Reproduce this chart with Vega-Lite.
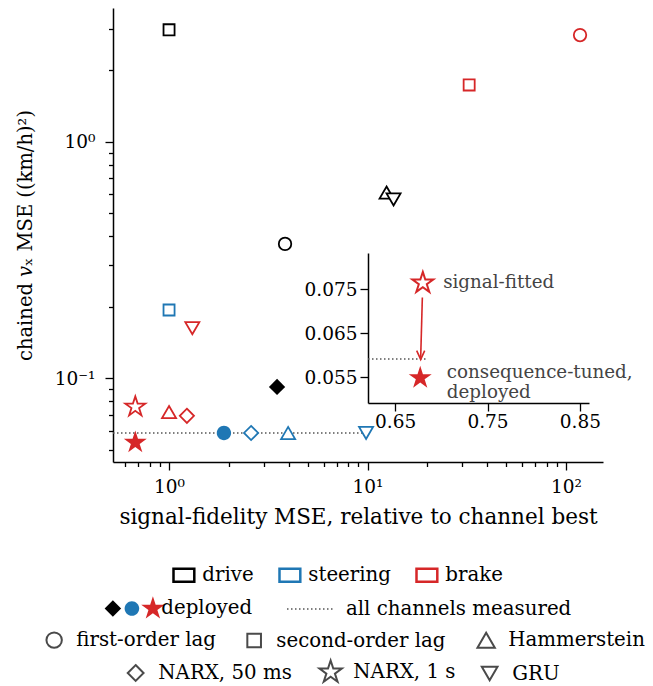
{
  "$schema": "https://vega.github.io/schema/vega-lite/v6.json",
  "width": 490,
  "height": 454,
  "autosize": {"type": "none"},
  "padding": {"left": 113, "top": 8, "right": 50, "bottom": 224},
  "background": "white",
  "config": {
    "view": {"stroke": null},
    "font": "DejaVu Serif",
    "style": {"guide-label": {"font": "DejaVu Serif"}, "guide-title": {"font": "DejaVu Serif"}},
    "axis": {"labelFont": "DejaVu Serif", "titleFont": "DejaVu Serif", "labelFontSize": 18.5, "titleFontSize": 19.5, "titleFontWeight": "normal", "labelColor": "#000", "titleColor": "#000", "domainColor": "#000", "tickColor": "#000", "domainWidth": 1.5, "tickWidth": 1.3, "grid": false, "labelOverlap": false, "labelFlush": false},
    "legend": {"labelFont": "DejaVu Serif", "labelFontSize": 19.8, "labelColor": "#000", "padding": 0, "labelLimit": 400, "orient": "none", "direction": "horizontal"}
  },
  "datasets": {
    "points": [
      {"channel": "drive", "model": "second-order lag", "signal": 1.0, "chained": 2.97, "status": "candidate"},
      {"channel": "drive", "model": "first-order lag", "signal": 3.84, "chained": 0.370, "status": "candidate"},
      {"channel": "drive", "model": "Hammerstein", "signal": 12.47, "chained": 0.610, "status": "candidate"},
      {"channel": "drive", "model": "GRU", "signal": 13.52, "chained": 0.570, "status": "candidate"},
      {"channel": "drive", "model": "NARX, 50 ms", "signal": 3.50, "chained": 0.0920, "status": "deployed"},
      {"channel": "steering", "model": "second-order lag", "signal": 1.0, "chained": 0.1945, "status": "candidate"},
      {"channel": "steering", "model": "first-order lag", "signal": 1.89, "chained": 0.0588, "status": "deployed"},
      {"channel": "steering", "model": "NARX, 50 ms", "signal": 2.59, "chained": 0.0588, "status": "candidate"},
      {"channel": "steering", "model": "Hammerstein", "signal": 3.98, "chained": 0.0588, "status": "candidate"},
      {"channel": "steering", "model": "GRU", "signal": 9.83, "chained": 0.0588, "status": "candidate"},
      {"channel": "brake", "model": "first-order lag", "signal": 117.6, "chained": 2.82, "status": "candidate"},
      {"channel": "brake", "model": "second-order lag", "signal": 32.5, "chained": 1.736, "status": "candidate"},
      {"channel": "brake", "model": "Hammerstein", "signal": 1.0, "chained": 0.0721, "status": "candidate"},
      {"channel": "brake", "model": "NARX, 50 ms", "signal": 1.23, "chained": 0.0695, "status": "candidate"},
      {"channel": "brake", "model": "GRU", "signal": 1.31, "chained": 0.163, "status": "candidate"},
      {"channel": "brake", "model": "NARX, 1 s", "signal": 0.676, "chained": 0.0758, "status": "candidate"},
      {"channel": "brake", "model": "NARX, 1 s", "signal": 0.676, "chained": 0.0536, "status": "deployed"}
    ],
    "reference": [
      {"signal": 0.522, "signal_end": 9.83, "chained": 0.0588, "status": "all channels measured"}
    ]
  },
  "layer": [
    {
      "data": {"name": "reference"},
      "mark": {"type": "rule", "color": "#555555", "strokeWidth": 1.5},
      "encoding": {
        "x": {"field": "signal", "type": "quantitative", "scale": {"type": "log", "domain": [0.522, 153.5], "nice": false},
          "axis": {"orient": "bottom", "title": null, "values": [0.6, 0.7, 0.8, 0.9, 2, 3, 4, 5, 6, 7, 8, 9, 20, 30, 40, 50, 60, 70, 80, 90], "labels": false, "domain": false, "tickSize": 4.5}},
        "x2": {"field": "signal_end"},
        "y": {"field": "chained", "type": "quantitative", "scale": {"type": "log", "domain": [0.04434, 3.67], "nice": false},
          "axis": {"orient": "left", "title": null, "values": [0.05, 0.06, 0.07, 0.08, 0.09, 0.2, 0.3, 0.4, 0.5, 0.6, 0.7, 0.8, 0.9, 2, 3], "labels": false, "domain": false, "tickSize": 4.5}},
        "strokeDash": {"field": "status", "type": "nominal", "scale": {"domain": ["all channels measured"], "range": [[1.5, 2.5]]},
          "legend": {"title": null, "orient": "none", "legendX": 183, "legendY": 576, "direction": "horizontal", "labelFont": "DejaVu Serif", "symbolType": "stroke", "symbolSize": 2304, "symbolStrokeWidth": 1.5, "symbolStrokeColor": "#555555", "symbolOffset": -10, "labelOffset": 10}}
      }
    },
    {
      "data": {"name": "points"},
      "transform": [{"filter": "datum.status === 'candidate' && indexof(['first-order lag', 'second-order lag', 'Hammerstein'], datum.model) >= 0"}],
      "mark": {"type": "point", "filled": true, "opacity": 1, "size": 30},
      "encoding": {
        "x": {"field": "signal", "type": "quantitative", "scale": {"type": "log", "domain": [0.522, 153.5], "nice": false}, "axis": null},
        "y": {"field": "chained", "type": "quantitative", "scale": {"type": "log", "domain": [0.04434, 3.67], "nice": false}, "axis": null},
        "fill": {"field": "channel", "type": "nominal", "scale": {"domain": ["brake", "steering", "drive"], "range": ["white", "white", "white"]}, "legend": null},
        "shape": {"field": "model", "type": "nominal",
          "scale": {"domain": ["first-order lag", "second-order lag", "Hammerstein"],
            "range": ["M-1.04,0A1.04,1.04,0,1,0,1.04,0A1.04,1.04,0,1,0,-1.04,0Z", "M-0.92,-0.92L0.92,-0.92L0.92,0.92L-0.92,0.92Z", "M0,-1.01L1.17,1.01L-1.17,1.01Z"]},
          "legend": {"title": null, "orient": "none", "legendX": -68.75, "legendY": 622, "direction": "horizontal", "labelFont": "DejaVu Serif", "symbolSize": 220, "symbolStrokeWidth": 2, "symbolStrokeColor": "#4a4a4a", "symbolFillColor": "white", "symbolOpacity": 1, "labelOffset": 12.25, "columnPadding": 27}}
      }
    },
    {
      "data": {"name": "points"},
      "transform": [{"filter": "datum.status === 'candidate' && indexof(['NARX, 50 ms', 'NARX, 1 s', 'GRU'], datum.model) >= 0"}],
      "mark": {"type": "point", "filled": true, "opacity": 1, "size": 30},
      "encoding": {
        "x": {"field": "signal", "type": "quantitative", "scale": {"type": "log", "domain": [0.522, 153.5], "nice": false}, "axis": null},
        "y": {"field": "chained", "type": "quantitative", "scale": {"type": "log", "domain": [0.04434, 3.67], "nice": false}, "axis": null},
        "fill": {"field": "channel", "type": "nominal", "scale": {"domain": ["brake", "steering", "drive"], "range": ["white", "white", "white"]}, "legend": null},
        "shape": {"field": "model", "type": "nominal",
          "scale": {"domain": ["NARX, 50 ms", "NARX, 1 s", "GRU"],
            "range": ["M0,-1.18L1.18,0L0,1.18L-1.18,0Z", "M0,-1.75L0.393,-0.541L1.664,-0.541L0.636,0.207L1.029,1.416L0,0.669L-1.029,1.416L-0.636,0.207L-1.664,-0.541L-0.393,-0.541Z", "M0,1.01L1.17,-1.01L-1.17,-1.01Z"]},
          "legend": {"title": null, "orient": "none", "legendX": 12.75, "legendY": 654, "direction": "horizontal", "labelFont": "DejaVu Serif", "symbolSize": 180, "symbolStrokeWidth": 2, "symbolStrokeColor": "#4a4a4a", "symbolFillColor": "white", "symbolOpacity": 1, "labelOffset": 12.75, "columnPadding": 22}}
      }
    },
    {
      "data": {"name": "points"},
      "transform": [{"filter": "datum.status === 'candidate'"}],
      "mark": {"type": "point", "filled": false, "fill": "white", "strokeWidth": 1.8, "opacity": 1, "size": 144},
      "encoding": {
        "x": {"field": "signal", "type": "quantitative", "scale": {"type": "log", "domain": [0.522, 153.5], "nice": false},
          "axis": {"orient": "bottom", "title": "signal-fidelity MSE, relative to channel best", "values": [1, 10, 100],
            "labelExpr": "datum.value === 1 ? '10⁰' : datum.value === 10 ? '10¹' : '10²'",
            "labelFont": "DejaVu Serif", "titleFont": "DejaVu Serif", "titleFontSize": 21.5,
            "tickSize": 8, "labelPadding": 7, "titlePadding": 11}},
        "y": {"field": "chained", "type": "quantitative", "scale": {"type": "log", "domain": [0.04434, 3.67], "nice": false},
          "axis": {"orient": "left", "title": "chained 𝑣ₓ MSE ((km/h)²)", "values": [0.1, 1],
            "labelExpr": "datum.value === 0.1 ? '10⁻¹' : '10⁰'",
            "labelFont": "DejaVu Serif", "titleFont": "DejaVu Serif",
            "tickSize": 8, "labelPadding": 10, "titlePadding": 19}},
        "stroke": {"field": "channel", "type": "nominal", "scale": {"domain": ["drive", "steering", "brake"], "range": ["#000000", "#1f77b4", "#d62728"]},
          "legend": {"title": null, "orient": "none", "legendX": 59, "legendY": 557, "direction": "horizontal", "labelFont": "DejaVu Serif", "symbolType": "M-1.6,-1L1.6,-1L1.6,1L-1.6,1Z", "symbolSize": 169, "symbolStrokeWidth": 2.5, "symbolFillColor": "white", "symbolOffset": 2, "labelOffset": 8.5, "columnPadding": 20}},
        "shape": {"field": "model", "type": "nominal",
          "scale": {"domain": ["first-order lag", "second-order lag", "Hammerstein", "NARX, 50 ms", "NARX, 1 s", "GRU"],
            "range": ["M-1.04,0A1.04,1.04,0,1,0,1.04,0A1.04,1.04,0,1,0,-1.04,0Z", "M-0.92,-0.92L0.92,-0.92L0.92,0.92L-0.92,0.92Z", "M0,-1.01L1.17,1.01L-1.17,1.01Z", "M0,-1.18L1.18,0L0,1.18L-1.18,0Z", "M0,-1.75L0.393,-0.541L1.664,-0.541L0.636,0.207L1.029,1.416L0,0.669L-1.029,1.416L-0.636,0.207L-1.664,-0.541L-0.393,-0.541Z", "M0,1.01L1.17,-1.01L-1.17,-1.01Z"]},
          "legend": null}
      }
    },
    {
      "data": {"name": "points"},
      "transform": [{"filter": "datum.status === 'deployed'"}],
      "mark": {"type": "point", "filled": true, "opacity": 1, "size": 190},
      "encoding": {
        "x": {"field": "signal", "type": "quantitative", "scale": {"type": "log", "domain": [0.522, 153.5], "nice": false}, "axis": null},
        "y": {"field": "chained", "type": "quantitative", "scale": {"type": "log", "domain": [0.04434, 3.67], "nice": false}, "axis": null},
        "fill": {"field": "channel", "type": "nominal", "scale": {"domain": ["drive", "steering", "brake"], "range": ["#000000", "#1f77b4", "#d62728"]},
          "legend": {"title": null, "orient": "none", "legendX": -10, "legendY": 590.5, "direction": "horizontal", "labelFont": "DejaVu Serif", "labelExpr": "datum.value === 'brake' ? '\u2002deployed' : ''", "symbolSize": 196, "symbolStrokeWidth": 0, "symbolStrokeColor": "transparent", "symbolOpacity": 1, "labelOffset": -1.5, "columnPadding": 0}},
        "shape": {"field": "channel", "type": "nominal",
          "scale": {"domain": ["drive", "steering", "brake"],
            "range": ["M0,-1.18L1.18,0L0,1.18L-1.18,0Z", "M-1.04,0A1.04,1.04,0,1,0,1.04,0A1.04,1.04,0,1,0,-1.04,0Z", "M0,-1.75L0.393,-0.541L1.664,-0.541L0.636,0.207L1.029,1.416L0,0.669L-1.029,1.416L-0.636,0.207L-1.664,-0.541L-0.393,-0.541Z"]},
          "legend": {"title": null, "orient": "none", "legendX": -10, "legendY": 590.5, "direction": "horizontal", "labelFont": "DejaVu Serif", "labelExpr": "datum.value === 'brake' ? '\u2002deployed' : ''", "symbolSize": 196, "symbolStrokeWidth": 0, "symbolStrokeColor": "transparent", "symbolOpacity": 1, "labelOffset": -1.5, "columnPadding": 0}}
      }
    },
    {
      "data": {"values": [{"x": 0.6207, "x_end": 0.684, "y": 0.0591}]},
      "mark": {"type": "rule", "strokeDash": [1.5, 2.5], "color": "#555555", "strokeWidth": 1.5},
      "encoding": {
        "x": {"field": "x", "type": "quantitative", "scale": {"domain": [0.6207, 0.8598], "range": [255, 476], "nice": false, "zero": false},
          "axis": {"orient": "bottom", "offset": -59, "title": null, "values": [0.65, 0.75, 0.85], "format": ".2f", "labelFont": "DejaVu Serif", "tickSize": 8, "labelPadding": 1}},
        "x2": {"field": "x_end"},
        "y": {"field": "y", "type": "quantitative", "scale": {"domain": [0.0491, 0.0832], "range": [395, 245], "nice": false, "zero": false},
          "axis": {"orient": "left", "offset": -255, "title": null, "values": [0.055, 0.065, 0.075], "format": ".3f", "labelFont": "DejaVu Serif", "tickSize": 8, "labelPadding": 3}}
      }
    },
    {
      "data": {"values": [{"x": 0.6795, "y": 0.0731, "x_end": 0.6777, "y_end": 0.0594}]},
      "mark": {"type": "rule", "color": "#d62728", "strokeWidth": 1.6},
      "encoding": {
        "x": {"field": "x", "type": "quantitative", "scale": {"domain": [0.6207, 0.8598], "range": [255, 476], "nice": false, "zero": false}, "axis": null},
        "x2": {"field": "x_end"},
        "y": {"field": "y", "type": "quantitative", "scale": {"domain": [0.0491, 0.0832], "range": [395, 245], "nice": false, "zero": false}, "axis": null},
        "y2": {"field": "y_end"}
      }
    },
    {
      "data": {"values": [{"x": 0.6777, "y": 0.0590}]},
      "mark": {"type": "point", "shape": "M-1,-2.2L0,0L1,-2.2", "filled": false, "stroke": "#d62728", "strokeWidth": 1.6, "size": 64, "opacity": 1},
      "encoding": {
        "x": {"field": "x", "type": "quantitative", "scale": {"domain": [0.6207, 0.8598], "range": [255, 476], "nice": false, "zero": false}, "axis": null},
        "y": {"field": "y", "type": "quantitative", "scale": {"domain": [0.0491, 0.0832], "range": [395, 245], "nice": false, "zero": false}, "axis": null}
      }
    },
    {
      "data": {"values": [{"x": 0.680, "y": 0.0764}]},
      "mark": {"type": "point", "shape": "M0,-1L0.2245,-0.309L0.9511,-0.309L0.3633,0.118L0.5878,0.809L0,0.382L-0.5878,0.809L-0.3633,0.118L-0.9511,-0.309L-0.2245,-0.309Z", "filled": false, "fill": "white", "stroke": "#d62728", "strokeWidth": 2, "size": 485, "opacity": 1},
      "encoding": {
        "x": {"field": "x", "type": "quantitative", "scale": {"domain": [0.6207, 0.8598], "range": [255, 476], "nice": false, "zero": false}, "axis": null},
        "y": {"field": "y", "type": "quantitative", "scale": {"domain": [0.0491, 0.0832], "range": [395, 245], "nice": false, "zero": false}, "axis": null}
      }
    },
    {
      "data": {"values": [{"x": 0.6772, "y": 0.0548}]},
      "mark": {"type": "point", "shape": "M0,-1L0.2245,-0.309L0.9511,-0.309L0.3633,0.118L0.5878,0.809L0,0.382L-0.5878,0.809L-0.3633,0.118L-0.9511,-0.309L-0.2245,-0.309Z", "filled": true, "fill": "#d62728", "size": 585, "opacity": 1},
      "encoding": {
        "x": {"field": "x", "type": "quantitative", "scale": {"domain": [0.6207, 0.8598], "range": [255, 476], "nice": false, "zero": false}, "axis": null},
        "y": {"field": "y", "type": "quantitative", "scale": {"domain": [0.0491, 0.0832], "range": [395, 245], "nice": false, "zero": false}, "axis": null}
      }
    },
    {
      "data": {"values": [{"x": 0.702, "y": 0.0764, "label": "signal-fitted"}, {"x": 0.706, "y": 0.0559, "label": "consequence-tuned,\ndeployed"}]},
      "mark": {"type": "text", "align": "left", "baseline": "middle", "font": "DejaVu Serif", "fontSize": 18.3, "color": "#444444", "lineBreak": "\n", "lineHeight": 20},
      "encoding": {
        "x": {"field": "x", "type": "quantitative", "scale": {"domain": [0.6207, 0.8598], "range": [255, 476], "nice": false, "zero": false}, "axis": null},
        "y": {"field": "y", "type": "quantitative", "scale": {"domain": [0.0491, 0.0832], "range": [395, 245], "nice": false, "zero": false}, "axis": null},
        "text": {"field": "label"}
      }
    }
  ],
  "resolve": {"scale": {"x": "independent", "y": "independent", "shape": "independent", "fill": "independent", "stroke": "independent"}, "axis": {"x": "independent", "y": "independent"}}
}
